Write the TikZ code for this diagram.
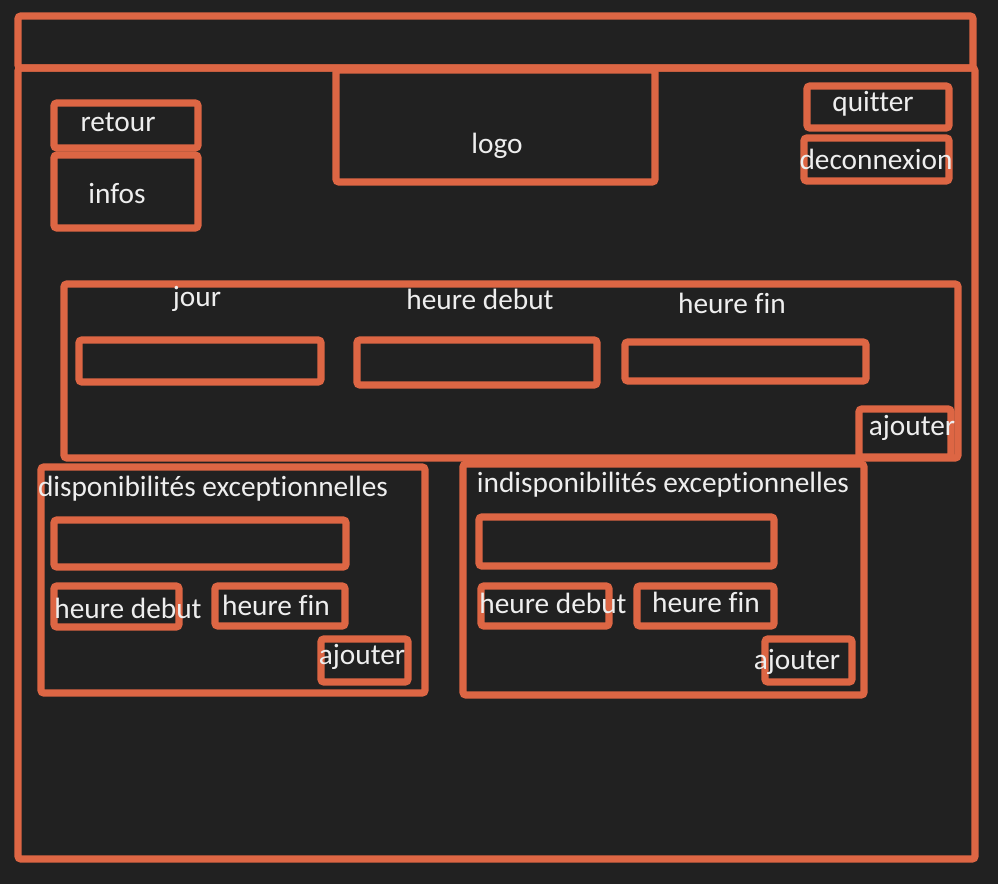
\documentclass[tikz,border=0pt]{standalone}
\usepackage{fontspec}
\setmainfont{Carlito}[RawFeature=-liga]
\definecolor{fond}{HTML}{212121}
\definecolor{trait}{HTML}{DD6644}
\definecolor{ecrit}{HTML}{EEEEEE}
\tikzset{
  cadre/.style={draw=trait, line width=4pt, rounded corners=1.5pt},
  txt/.style={text=ecrit, inner sep=0pt, font=\fontsize{16.7}{20}\selectfont},
}
\begin{document}
\begin{tikzpicture}[x=0.02cm, y=-0.02cm]
\fill[fond] (0,0) rectangle (998,884);
\useasboundingbox (0,0) rectangle (998,884);
\draw[cadre] (18,16) rectangle (973,68);
\draw[cadre] (18,68) rectangle (975,859);
\draw[cadre] (336,70) rectangle (655,182);
\node[txt] (logo) at (497,146) {logo};
\draw[cadre] (54,103) rectangle (198,148);
\node[txt] (retour) at (118,122) {retour};
\draw[cadre] (54,155) rectangle (198,228);
\node[txt] (infos) at (117,194) {infos};
\draw[cadre] (807,86) rectangle (949,128);
\node[txt] (quitter) at (873,104) {quitter};
\draw[cadre] (804,138) rectangle (949,181);
\node[txt] (deconnexion) at (876,159) {deconnexion};
\draw[cadre] (64,284) rectangle (958,458);
\node[txt] (jour) at (197,299) {jour};
\node[txt] (debut) at (480,299) {heure debut};
\node[txt] (fin) at (732,303) {heure fin};
\draw[cadre] (79,340) rectangle (321,382);
\draw[cadre] (357,340) rectangle (597,385);
\draw[cadre] (625,342) rectangle (866,381);
\draw[cadre] (859,409) rectangle (951,457);
\node[txt] (ajouter) at (912,428) {ajouter};
\draw[cadre] (41,467) rectangle (425,693);
\node[txt] (dispo) at (213,489) {disponibilités exceptionnelles};
\draw[cadre] (54,520) rectangle (346,567);
\draw[cadre] (54,586) rectangle (179,627);
\node[txt] (dispo debut) at (128,608) {heure debut};
\draw[cadre] (215,586) rectangle (345,626);
\node[txt] (dispo fin) at (276,605) {heure fin};
\draw[cadre] (321,639) rectangle (408,682);
\node[txt] (dispo ajouter) at (362,657) {ajouter};
\draw[cadre] (463,464) rectangle (864,695);
\node[txt] (indispo) at (663,485) {indisponibilités exceptionnelles};
\draw[cadre] (479,517) rectangle (774,566);
\draw[cadre] (481,586) rectangle (609,626);
\node[txt] (indispo debut) at (553,603) {heure debut};
\draw[cadre] (637,586) rectangle (774,626);
\node[txt] (indispo fin) at (706,602) {heure fin};
\draw[cadre] (765,639) rectangle (852,682);
\node[txt] (indispo ajouter) at (797,662) {ajouter};
\end{tikzpicture}
\end{document}
